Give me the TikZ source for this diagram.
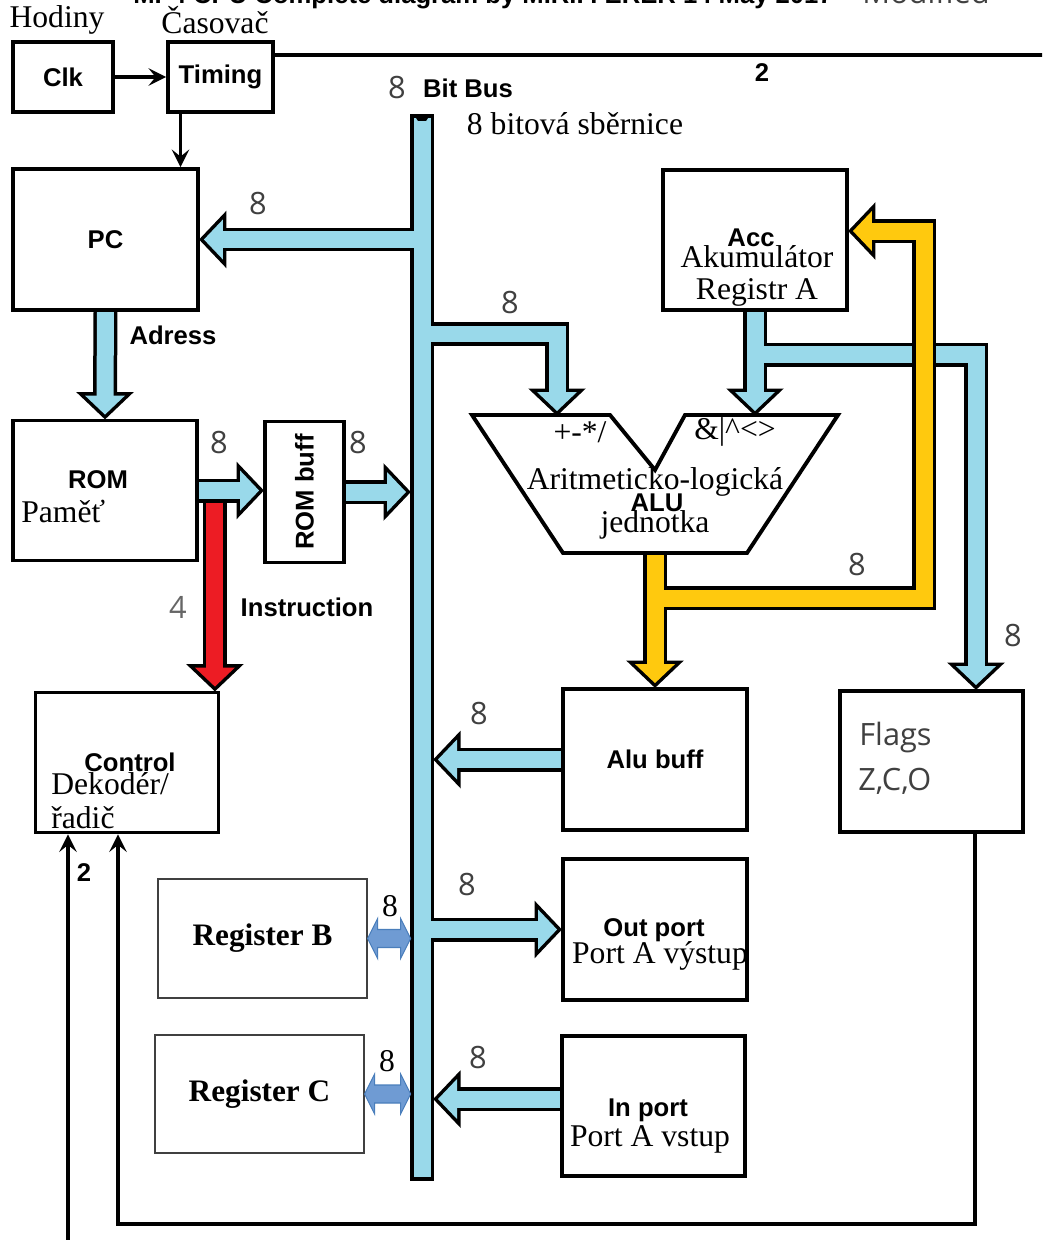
\documentclass[tikz,border=0pt]{standalone}
\usepackage{fontspec}
\setmainfont{Liberation Serif}
\setsansfont{Liberation Sans}
\newfontfamily\numfont{Open Sans}
\usetikzlibrary{arrows.meta, positioning, calc, backgrounds}
\definecolor{busBlue}{HTML}{99D9EA}
\definecolor{aluYellow}{HTML}{FFC90E}
\definecolor{instRed}{HTML}{ED1C24}
\definecolor{regArrow}{HTML}{6F9BD3}
\definecolor{regEdge}{HTML}{4A7EBB}
\definecolor{numGray}{HTML}{404040}

\newcommand{\fathead}[3]{\path[#3, shift={(#1)}, rotate=#2] (-4,0) -- (-23,20) -- (-23,-20) -- cycle;}

\newcommand{\bluenet}[2]{%
  \draw[#1] (pc.east -| bustop) -- ([xshift=0.4cm]pc.east);
  \draw[#1] (pc.south) -- ([yshift=0.4cm]rom.north);
  \draw[#1] (rom.east) -- ([xshift=-0.4cm]romin);
  \draw[#1] (rombuff.east) -- ([xshift=-0.4cm]busin1);
  \draw[#1] (tapA) -| ([yshift=0.4cm]aluA);
  \draw[#1] (acc.south) -- ([yshift=0.4cm]aluB);
  \draw[#1] ([yshift=-0.86cm]acc.south) -| ([yshift=0.4cm]flagsin);
  \draw[#1] (alubuff.west) -- ([xshift=0.4cm]busin2);
  \draw[#1] (outport.west -| bustop) -- ([xshift=-0.4cm]outport.west);
  \draw[#1] (inpout) -- ([xshift=0.4cm]busin3);
  \fathead{pc.east}{180}{#2}
  \fathead{rom.north}{-90}{#2}
  \fathead{romin}{0}{#2}
  \fathead{busin1}{0}{#2}
  \fathead{aluA}{-90}{#2}
  \fathead{aluB}{-90}{#2}
  \fathead{flagsin}{-90}{#2}
  \fathead{busin2}{180}{#2}
  \fathead{outport.west}{0}{#2}
  \fathead{busin3}{180}{#2}}

\newcommand{\yellownet}[2]{%
  \draw[#1] (aluout) -- ([yshift=0.4cm]alubuff.north);
  \draw[#1] (tapC) -- ++(269,0) |- ([xshift=0.4cm]accin);
  \fathead{alubuff.north}{-90}{#2}
  \fathead{accin}{180}{#2}}

\begin{document}
\begin{tikzpicture}[x=0.02cm, y=-0.02cm,
    blk/.style={draw, line width=2.2pt, fill=white, inner sep=0pt,
      font=\sffamily\bfseries\fontsize{14.6}{16}\selectfont},
    regbox/.style={draw=black!75, line width=0.7pt, fill=white, inner sep=0pt,
      font=\bfseries\fontsize{17.8}{20}\selectfont},
    czech/.style={font=\fontsize{18}{20}\selectfont, inner sep=0pt},
    hdr/.style={font=\sffamily\bfseries\fontsize{14.6}{16}\selectfont, inner sep=0pt},
    bits/.style={font=\numfont\fontsize{17.5}{19}\selectfont, text=numGray, inner sep=0pt},
    wire/.style={line width=2.2pt, -{Stealth[length=10pt, width=10pt, inset=4pt]}},
    rim/.style={line width=2.2pt},
    bandout/.style={draw=black, line width=0.48cm},
    bandin/.style={draw=#1, line width=0.34cm},
    headout/.style={draw=black, line width=0.14cm},
    headin/.style={fill=#1},
    regdbl/.style={fill=regArrow, draw=regEdge, line width=0.6pt}
  ]
  \useasboundingbox (0,0) rectangle (1042,1240);

  \node[blk, minimum width=2cm, minimum height=1.4cm] (clk) at (63,77) {Clk};
  \node[blk, minimum width=2.1cm, minimum height=1.4cm] (timing) at (220.5,77) {Timing};
  \node[blk, minimum width=3.7cm, minimum height=2.82cm] (pc) at (105.5,239.5) {PC};
  \node[blk, minimum width=3.68cm, minimum height=2.8cm] (rom) at (105,490.5) {};
  \node[blk, minimum width=1.58cm, minimum height=2.82cm] (rombuff) at (304.5,492) {};
  \node[blk, minimum width=3.66cm, minimum height=2.8cm] (ctrl) at (127,762.5) {};
  \node[blk, minimum width=3.68cm, minimum height=2.8cm] (acc) at (755,240) {};
  \node[blk, minimum width=3.68cm, minimum height=2.82cm] (alubuff) at (655,759.5) {Alu buff};
  \node[blk, minimum width=3.68cm, minimum height=2.82cm] (outport) at (655,929.5) {};
  \node[blk, minimum width=3.66cm, minimum height=2.8cm] (inport) at (653.5,1106) {};
  \node[blk, minimum width=3.66cm, minimum height=2.82cm] (flags) at (931.5,761.5) {};
  \node[regbox, minimum width=4.18cm, minimum height=2.38cm] (regb) at (262.5,938.5) {Register B};
  \node[regbox, minimum width=4.18cm, minimum height=2.36cm] (regc) at (259.5,1094) {Register C};

  \draw[line width=2.2pt, fill=white] (472,415) -- (610,415) -- (655,470) -- (685,415)
    -- (838,415) -- (747,553) -- (563,553) -- cycle;

  \coordinate (bustop) at (422,118);
  \coordinate (busbot) at (422,1177);
  \coordinate (busL) at (410,118);
  \coordinate (busR) at (434,118);
  \coordinate (tapA) at (422,334);
  \coordinate (aluA) at (557,415);
  \coordinate (aluB) at (acc.south |- aluA);
  \coordinate (aluout) at (655,553);
  \coordinate (tapC) at (655,598);
  \coordinate (accin) at ([yshift=0.18cm]acc.east);
  \coordinate (flagsin) at ([xshift=0.89cm]flags.north);
  \coordinate (romin) at (rombuff.west |- rom.east);
  \coordinate (busin1) at (rombuff.east -| busL);
  \coordinate (busin2) at (alubuff.west -| busR);
  \coordinate (inpout) at ([yshift=0.14cm]inport.west);
  \coordinate (busin3) at (inpout -| busR);
  \coordinate (ctrlin) at ([xshift=-0.11cm]ctrl.north east);
  \coordinate (redtop) at ($(ctrlin |- rom.east)+(0,12)$);
  \coordinate (edgeR) at (1042,55);
  \coordinate (ctrlfeed) at (68,1240);

  \begin{scope}[on background layer]
    \draw[bandout] ($(bustop)+(0,-3.5)$) -- ($(busbot)+(0,3.5)$);
    \bluenet{bandout}{headout}
    \draw[bandin=busBlue] (bustop) -- (busbot);
    \bluenet{bandin=busBlue}{headin=busBlue}
    \fill ($(bustop)+(-6,0)$) -- ++(2,3) -- ++(8,0) -- ++(2,-3) -- cycle;
    \draw[bandout] (redtop) -- ([yshift=0.4cm]ctrlin);
    \fathead{ctrlin}{-90}{headout}
    \draw[bandin=instRed] (redtop) -- ([yshift=0.4cm]ctrlin);
    \fathead{ctrlin}{-90}{headin=instRed}
    \yellownet{bandout}{headout}
    \yellownet{bandin=aluYellow}{headin=aluYellow}
  \end{scope}

  \draw[regdbl] (regb.east) -- ++(10,-20) -- ++(0,11) -- ++(23,0) -- ++(0,-11) -- ++(10,20)
    -- ++(-10,20) -- ++(0,-11) -- ++(-23,0) -- ++(0,11) -- cycle;
  \draw[regdbl] (regc.east) -- ++(10,-20) -- ++(0,11) -- ++(26,0) -- ++(0,-11) -- ++(10,20)
    -- ++(-10,20) -- ++(0,-11) -- ++(-26,0) -- ++(0,11) -- cycle;

  \draw[wire] (clk) -- (timing);
  \draw[wire] ([xshift=-0.8cm]timing.south) -- ([xshift=-0.8cm]timing.south |- pc.north);
  \draw[rim] ([yshift=0.44cm]timing.east) -- (edgeR);
  \draw[wire] (ctrlfeed) -- (ctrlfeed |- ctrl.south);
  \draw[wire] ([xshift=0.87cm]flags.south) -- ++(0,390) -| ([xshift=-0.18cm]ctrl.south);

  \node[hdr, anchor=base west] (title) at (133,4) {MP4 CPU Complete diagram by M.R.P. ERER 14 May 2017};
  \node[bits, anchor=base west] (modnote) at (862,4) {Modified};
  \node[czech] (hodiny) at (57,20) {Hodiny};
  \node[czech] (casovac) at (215,20) {Časovač};
  \node[bits] (busw) at (397,88) {8};
  \node[hdr] (busname) at (468,88) {Bit Bus};
  \node[czech] (buscz) at (575,124) {8 bitová sběrnice};
  \node[hdr] (clkw) at (762,73) {2};
  \node[bits] (pcw) at (258,204) {8};
  \node[bits] (aluaw) at (510,303) {8};
  \node[hdr] (adr) at (173,335) {Adress};
  \node[hdr] (romname) at (98,480) {ROM};
  \node[czech, anchor=west] (romcz) at (21,511) {Paměť};
  \node[hdr, rotate=90] (rombname) at (rombuff) {ROM buff};
  \node[bits] (romw) at (219,443) {8};
  \node[bits] (rombw) at (358,443) {8};
  \node[bits, text=numGray!80] (instw) at (178,607) {4};
  \node[hdr] (instname) at (307,607) {Instruction};
  \node[hdr] (ctrlname) at (130,762) {Control};
  \node[czech, anchor=west] (ctrlcz1) at (51,784) {Dekodér/};
  \node[czech, anchor=west] (ctrlcz2) at (51,818) {řadič};
  \node[hdr] (feedw) at (84,873) {2};
  \node[hdr] (accname) at (751,238) {Acc};
  \node[czech] (acccz1) at (757,257) {Akumulátor};
  \node[czech] (acccz2) at (757,292) {Registr A};
  \node[czech] (aluops1) at (580,432) {+-*/};
  \node[czech] (aluops2) at (735,432) {\&|\^{}<>};
  \node[czech] (alucz1) at (655,482) {Aritmeticko-logická};
  \node[hdr] (aluname) at (657,503) {ALU};
  \node[czech] (alucz2) at (655,525) {jednotka};
  \node[bits] (alubw) at (857,565) {8};
  \node[bits] (flagw) at (1013,636) {8};
  \node[bits] (bufw) at (479,714) {8};
  \node[bits] (outw) at (467,885) {8};
  \node[bits] (inw) at (478,1058) {8};
  \node[czech] (regbw) at (390,906) {8};
  \node[czech] (regcw) at (387,1061) {8};
  \node[bits, anchor=west] (flagsname) at (859,738) {Flags};
  \node[bits, anchor=west] (flagsset) at (858,781) {Z,C,O};
  \node[hdr] (outname) at (654,930) {Out port};
  \node[czech] (outcz) at (660,956) {Port A výstup};
  \node[hdr] (inname) at (648,1110) {In port};
  \node[czech] (incz) at (650,1139) {Port A vstup};
\end{tikzpicture}
\end{document}
